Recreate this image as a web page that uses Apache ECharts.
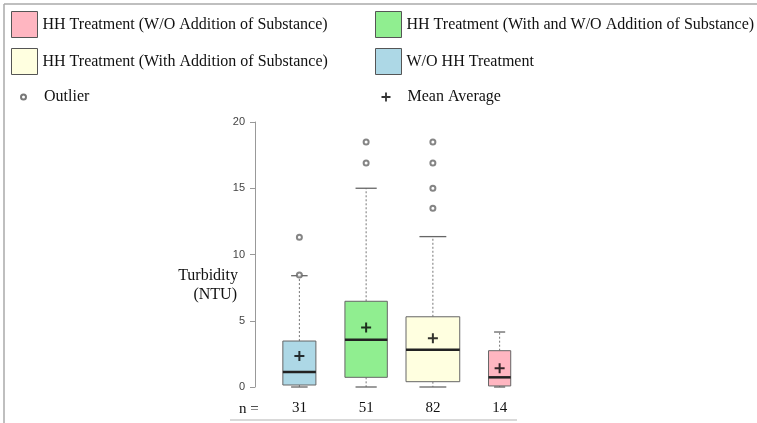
<!DOCTYPE html>
<html>
<head>
<meta charset="utf-8">
<script src="https://cdn.jsdelivr.net/npm/echarts@6/dist/echarts.min.js"></script>
<style>html,body{margin:0;padding:0;background:#fff;}#c{width:757px;height:423px;}</style>
</head>
<body>
<div id="c"></div>
<script>
// ---- data ----
const categories = ['W/O HH Treatment', 'HH Treatment (With and W/O Addition of Substance)', 'HH Treatment (With Addition of Substance)', 'HH Treatment (W/O Addition of Substance)'];
const counts = [31, 51, 82, 14];
const lowerWhisker = [0, 0, 0, 0];
const q1 = [0.15, 0.73, 0.4, 0.08];
const medians = [1.13, 3.57, 2.82, 0.73];
const q3 = [3.47, 6.47, 5.3, 2.74];
const upperWhisker = [8.4, 15, 11.35, 4.15];
const means = [2.34, 4.5, 3.67, 1.41];
const outliers = [[8.45, 11.3], [16.9, 18.5], [13.5, 15.0, 16.9, 18.5], []];
const yTicks = [0, 5, 10, 15, 20];
const fills = ['#ADD8E6', '#90EE90', '#FFFFE0', '#FFB6C1'];

const serif = 'Liberation Serif';

function renderBox(params, api) {
  const x = api.value(0);
  const n = api.value(6);
  const band = api.size([1, 0])[0];
  const bw = band * 0.0889 * Math.sqrt(n);
  const cap = bw / 2;
  const pLow = api.coord([x, api.value(1)]);
  const pQ1 = api.coord([x, api.value(2)]);
  const pMed = api.coord([x, api.value(3)]);
  const pQ3 = api.coord([x, api.value(4)]);
  const pHigh = api.coord([x, api.value(5)]);
  const cx = pLow[0];
  const fill = api.visual('color');
  const wStyle = { stroke: '#777', lineWidth: 1, lineDash: [2, 2] };
  const cStyle = { stroke: '#666', lineWidth: 1.3 };
  return {
    type: 'group',
    children: [
      { type: 'line', shape: { x1: cx, y1: pQ3[1], x2: cx, y2: pHigh[1] }, style: wStyle },
      { type: 'line', shape: { x1: cx, y1: pQ1[1], x2: cx, y2: pLow[1] }, style: wStyle },
      { type: 'line', shape: { x1: cx - cap / 2, y1: pHigh[1], x2: cx + cap / 2, y2: pHigh[1] }, style: cStyle },
      { type: 'line', shape: { x1: cx - cap / 2, y1: pLow[1], x2: cx + cap / 2, y2: pLow[1] }, style: cStyle },
      { type: 'rect', shape: { x: cx - bw / 2, y: pQ3[1], width: bw, height: pQ1[1] - pQ3[1] }, style: { fill: fill, stroke: '#666', lineWidth: 1 } },
      { type: 'line', shape: { x1: cx - bw / 2, y1: pMed[1], x2: cx + bw / 2, y2: pMed[1] }, style: { stroke: '#222', lineWidth: 2.5 } }
    ]
  };
}

const boxSeries = categories.map((name, i) => ({
  name: name,
  type: 'custom',
  renderItem: renderBox,
  itemStyle: { color: fills[i] },
  encode: { x: 0, y: [1, 2, 3, 4, 5] },
  data: [[i, lowerWhisker[i], q1[i], medians[i], q3[i], upperWhisker[i], counts[i]]],
  z: 2
}));

const outlierData = [];
outliers.forEach((arr, i) => arr.forEach(v => outlierData.push([i, v])));
const meanData = means.map((v, i) => [i, v]);

const plusPath = 'path://M0,4H10V6H0Z M4,0H6V10H4Z';

function legendBox(name, color, left, top) {
  return {
    left: left, top: top, padding: 0, orient: 'vertical', selectedMode: false,
    icon: 'rect', itemWidth: 26, itemHeight: 26,
    data: [{ name: name, itemStyle: { color: color, borderColor: '#555', borderWidth: 1 } }],
    textStyle: { fontFamily: serif, fontSize: 16, color: '#111' }
  };
}

const option = {
  animation: false,
  backgroundColor: '#fff',
  grid: { left: 266, top: 122, width: 267, height: 265, containLabel: false },
  legend: [
    legendBox(categories[3], fills[3], 11, 11),
    legendBox(categories[2], fills[2], 11, 48),
    legendBox(categories[1], fills[1], 375, 11),
    legendBox(categories[0], fills[0], 375, 48),
    {
      left: 20, top: 89, padding: 0, selectedMode: false, itemWidth: 5, itemHeight: 5,
      data: [{ name: 'Outlier', icon: 'emptyCircle', itemStyle: { color: '#555', borderColor: '#555', borderWidth: 1 } }],
      textStyle: { fontFamily: serif, fontSize: 16, color: '#111', padding: [0, 0, 0, 13] }
    },
    {
      left: 381.5, top: 89, padding: 0, selectedMode: false, itemWidth: 9, itemHeight: 9,
      data: [{ name: 'Mean Average', icon: plusPath, itemStyle: { color: '#000', borderWidth: 0 } }],
      textStyle: { fontFamily: serif, fontSize: 16, color: '#111', padding: [0, 0, 0, 12] }
    }
  ],
  xAxis: {
    type: 'category',
    data: categories,
    axisLine: { show: false },
    axisTick: { show: false },
    axisLabel: { formatter: (v, i) => String(counts[i]), margin: 14, fontFamily: serif, fontSize: 15, color: '#111' }
  },
  yAxis: {
    type: 'value', min: yTicks[0], max: yTicks[yTicks.length - 1], interval: 5, offset: 11,
    axisLine: { show: true, lineStyle: { color: '#999', width: 1 } },
    axisTick: { show: true, length: 5, lineStyle: { color: '#999' } },
    splitLine: { show: false },
    axisLabel: { margin: 10, fontFamily: 'Liberation Sans', fontSize: 11, color: '#444' }
  },
  series: boxSeries.concat([
    {
      name: 'Outlier', type: 'scatter', data: outlierData, symbol: 'emptyCircle', symbolSize: 5,
      itemStyle: { color: '#666', borderColor: '#666', borderWidth: 1 }, z: 3
    },
    {
      name: 'Mean Average', type: 'scatter', data: meanData, symbol: plusPath, symbolSize: 10, symbolKeepAspect: true,
      itemStyle: { color: '#000' }, z: 4
    }
  ]),
  graphic: [
    { type: 'line', shape: { x1: 4, y1: 4, x2: 757, y2: 4 }, style: { stroke: '#aaa', lineWidth: 1.5 } },
    { type: 'line', shape: { x1: 4, y1: 4, x2: 4, y2: 423 }, style: { stroke: '#aaa', lineWidth: 1.5 } },
    { type: 'line', shape: { x1: 230, y1: 420, x2: 517, y2: 420 }, style: { stroke: '#ccc', lineWidth: 1.5 } },
    { type: 'text', x: 238, y: 276, style: { text: 'Turbidity', font: '16px "Liberation Serif"', fill: '#111', textAlign: 'right', textVerticalAlign: 'middle' } },
    { type: 'text', x: 237, y: 295, style: { text: '(NTU)', font: '16px "Liberation Serif"', fill: '#111', textAlign: 'right', textVerticalAlign: 'middle' } },
    { type: 'text', x: 239, y: 409, style: { text: 'n =', font: '15px "Liberation Serif"', fill: '#111', textAlign: 'left', textVerticalAlign: 'middle' } }
  ]
};

const chart = echarts.init(document.getElementById('c'), null, { renderer: 'canvas' });
chart.setOption(option);
</script>
</body>
</html>
